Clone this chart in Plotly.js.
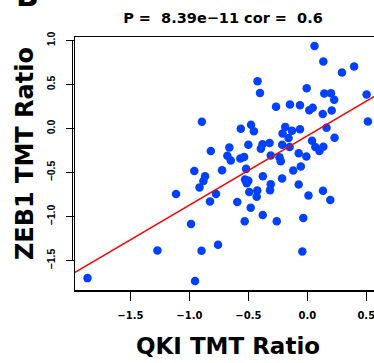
<!DOCTYPE html>
<html>
<head>
<meta charset="utf-8">
<script src="https://cdn.plot.ly/plotly-3.0.1.min.js"></script>
<style>
html,body{margin:0;padding:0;overflow:hidden;background:#fff;}
#chart{width:400px;height:363px;}
</style>
</head>
<body>
<div id="chart"></div>
<script>
// QKI TMT ratio (x) and ZEB1 TMT ratio (y)
const qki = [0.061,0.136,0.397,0.294,-0.422,-0.401,-0.005,0.144,0.201,0.228,
  0.503,-0.265,-0.147,-0.062,0.017,0.046,0.131,0.207,-0.894,0.514,
  -0.564,-0.477,-0.453,-0.187,-0.210,-0.130,-0.159,-0.062,0.163,0.231,
  0.040,0.068,0.136,0.103,-0.818,-0.661,-0.500,-0.380,-0.320,-0.394,
  -0.213,-0.150,-0.678,-0.649,-0.536,-0.568,-0.236,-0.225,-0.073,-0.008,
  -0.310,-0.958,-0.867,-0.881,-0.914,-1.113,-0.774,-0.825,-0.723,-0.519,
  -0.528,-0.500,-0.514,-0.377,-0.310,-0.214,-0.119,-0.055,-0.073,-0.492,
  -0.424,-0.429,-0.316,-0.594,-0.480,0.010,0.133,0.195,-0.378,-0.531,
  -0.259,-0.034,-0.986,-1.271,-0.897,-0.757,-0.042,-1.864,-0.952];
const zeb1 = [0.937,0.761,0.705,0.637,0.537,0.404,0.458,0.398,0.402,0.328,
  0.387,0.249,0.274,0.266,0.207,0.235,0.166,0.206,0.076,0.081,
  -0.003,0.043,-0.031,0.019,-0.057,-0.026,-0.107,-0.009,0.008,-0.104,
  -0.139,-0.209,-0.206,-0.255,-0.255,-0.215,-0.184,-0.178,-0.164,-0.230,
  -0.184,-0.209,-0.309,-0.364,-0.322,-0.341,-0.325,-0.371,-0.281,-0.317,
  -0.305,-0.481,-0.543,-0.596,-0.670,-0.744,-0.744,-0.828,-0.473,-0.458,
  -0.579,-0.592,-0.620,-0.541,-0.633,-0.568,-0.477,-0.432,-0.636,-0.722,
  -0.704,-0.775,-0.701,-0.835,-0.899,-0.760,-0.707,-0.812,-0.982,-1.054,
  -1.054,-1.015,-1.083,-1.386,-1.388,-1.320,-1.397,-1.699,-1.733];

const titleText = "P =  8.39e\u221211 cor =  0.6";
const xTitle = "QKI TMT Ratio";
const yTitle = "ZEB1 TMT Ratio";
const panelLabel = "B";
const xRange = [-1.97, 0.625];
const yRange = [-1.834, 1.040];

// least-squares fit line (abline(lm(y ~ x)))
const n = qki.length;
const mx = qki.reduce((a,b)=>a+b,0)/n;
const my = zeb1.reduce((a,b)=>a+b,0)/n;
let sxy = 0, sxx = 0;
for (let i=0;i<n;i++){ sxy += (qki[i]-mx)*(zeb1[i]-my); sxx += (qki[i]-mx)**2; }
const slope = sxy/sxx, intercept = my - slope*mx;
const fitX = xRange.slice();
const fitY = fitX.map(x => intercept + slope*x);

const dj = 'DejaVu Sans';
const traces = [
  {x: qki, y: zeb1, type:'scatter', mode:'markers',
   marker:{color:'#0040ff', size:8.5, line:{width:0}}, hoverinfo:'x+y', cliponaxis:true},
  {x: fitX, y: fitY, type:'scatter', mode:'lines',
   line:{color:'#ff0000', width:1.5}, hoverinfo:'skip'}
];

const H = 363, plotTop = 36.5, plotH = 254;
const layout = {
  width: 400, height: H,
  margin:{l:75, r:18.8, t:plotTop, b:72.5, pad:0},
  paper_bgcolor:'#fff', plot_bgcolor:'#fff',
  showlegend:false,
  title:{text:titleText, font:{family:dj, size:14.5, weight:'bold', color:'#000'},
         x:223/400, xanchor:'center', xref:'container', y:1-17.5/H, yanchor:'middle'},
  xaxis:{range:xRange, autorange:false, tickmode:'linear', tick0:0, dtick:0.5, tickformat:'.1f',
         showgrid:false, zeroline:false, showline:true, mirror:true, linecolor:'#000', linewidth:1.5,
         ticks:'outside', ticklen:9, tickwidth:1.5, tickcolor:'#000',
         tickfont:{family:dj, size:10, weight:'bold', color:'#000'}, ticklabelstandoff:6,
         title:{text:xTitle, font:{family:dj, size:23, weight:'bold', color:'#000'}, standoff:18}},
  yaxis:{range:yRange, autorange:false, tickmode:'linear', tick0:0, dtick:0.5, tickformat:'.1f',
         showgrid:false, zeroline:false, showline:true, mirror:true, linecolor:'#000', linewidth:1.5,
         ticks:'outside', ticklen:8, tickwidth:1.5, tickcolor:'#000', tickangle:-90,
         tickfont:{family:'Liberation Sans', size:10.5, weight:'bold', color:'#000'}, ticklabelstandoff:6},
  shapes:[
    {type:'line', xref:'paper', xsizemode:'pixel', xanchor:0, x0:-2.5, x1:-2.5,
     yref:'y', y0:-1.5, y1:1.0, line:{color:'#000', width:1}},
  ],
  annotations:[
    {text:yTitle, textangle:-90, xref:'paper', yref:'paper',
     x:-(75-25)/306.2, y:1-(154-plotTop)/plotH, xanchor:'center', yanchor:'middle',
     showarrow:false, font:{family:dj, size:24, weight:'bold', color:'#000'}},
    {text:panelLabel, xref:'paper', yref:'paper', x:-(75-27)/306.2, y:1+(plotTop+5)/plotH,
     xanchor:'center', yanchor:'middle',
     showarrow:false, font:{family:dj, size:30, weight:'bold', color:'#000'}}
  ]
};

Plotly.newPlot('chart', traces, layout, {displayModeBar:false, staticPlot:true});
</script>
</body>
</html>
